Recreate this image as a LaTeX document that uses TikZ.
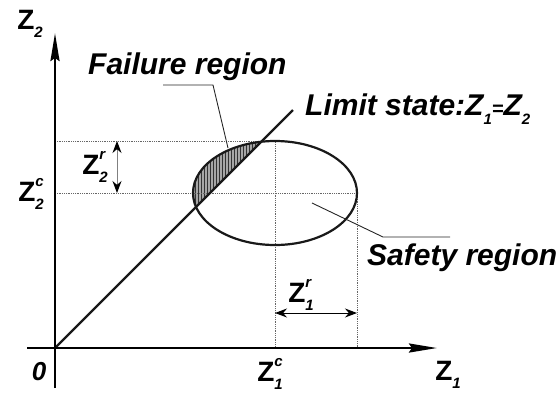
\documentclass[tikz,border=0pt]{standalone}
\usepackage{fontspec}
\setmainfont{Liberation Sans}
\usetikzlibrary{arrows.meta,patterns}

\newcommand\idxfont{\fontsize{15}{15}\selectfont\bfseries\itshape}
\newcommand\zsub[1]{Z\raisebox{-0.3em}{\idxfont #1}}
\newcommand\zsubsup[2]{Z\makebox[0pt][l]{\raisebox{0.55em}{\idxfont #2}}\raisebox{-0.3em}{\idxfont #1}}

\begin{document}
\begin{tikzpicture}[x=1pt,y=-1pt,
    every node/.style={inner sep=0pt},
    axislab/.style={font=\fontsize{28}{28}\selectfont\bfseries},
    regionlab/.style={font=\fontsize{30}{30}\selectfont\bfseries\itshape, anchor=base west},
    axis/.style={line width=2.6pt, -{Stealth[length=28pt,width=9pt,inset=3pt]}},
    guide/.style={densely dotted, line width=0.8pt, black!60},
    leader/.style={line width=0.9pt, black!85},
    dim/.style={line width=1pt, {Stealth[length=12pt,width=9pt,color=black]}-{Stealth[length=12pt,width=9pt,color=black]}}]
  \useasboundingbox (0,0) rectangle (560,392);

  % axes
  \coordinate (O) at (55,348);
  \coordinate (xs) at (27,348);
  \coordinate (xe) at (437,348);
  \coordinate (ys) at (55,388);
  \coordinate (ye) at (55,33);

  % safety ellipse: centre and extremes
  \coordinate (C) at (275,193);
  \coordinate (Ctop) at (275,141);
  \coordinate (Cright) at (357,193);
  \coordinate (Caxis) at (275,348);
  \coordinate (Raxis) at (357,348);
  \coordinate (Ltop) at (55,141);
  \coordinate (Lmid) at (55,193);
  \coordinate (lim) at (293,110);

  % hatched failure part
  \begin{scope}
    \clip (C) ellipse [x radius=82, y radius=52];
    \fill[black!35] (O) -- (403,0) -- (55,0) -- cycle;
    \fill[pattern=vertical lines, pattern color=black!80] (O) -- (403,0) -- (55,0) -- cycle;
  \end{scope}

  % dotted guides
  \draw[guide] (Ltop) -- (Ctop) -- (Caxis);
  \draw[guide] (Lmid) -- (Cright) -- (Raxis);

  \draw[line width=2.2pt, black!90] (C) ellipse [x radius=82, y radius=52];
  \draw[line width=2.2pt, black!90] (O) -- (lim);

  \draw[axis] (xs) -- (xe);
  \draw[axis] (ys) -- (ye);

  % radii
  \coordinate (r2a) at (117,141);
  \coordinate (r2b) at (117,193);
  \draw[dim, black!50] (r2a) -- (r2b);
  \coordinate (r1a) at (275,313);
  \coordinate (r1b) at (357,313);
  \draw[dim] (r1a) -- (r1b);

  % labels
  \node[axislab] (z2) at (30,24) {\zsub{2}};
  \node[axislab] (z2c) at (31,194) {\zsubsup{2}{c}};
  \node[axislab] (z2r) at (95,167) {\zsubsup{2}{r}};
  \node[axislab, font=\fontsize{26}{26}\selectfont\bfseries\itshape] (zero) at (39,372) {0};
  \node[axislab] (z1c) at (270,374) {\zsubsup{1}{c}};
  \node[axislab] (z1r) at (301,295) {\zsubsup{1}{r}};
  \node[axislab] (z1) at (448,375) {\zsub{1}};

  \node[regionlab] (fail) at (88,74) {Failure region};
  \node[regionlab] (limit) at (305,115) {Limit state:\zsub{1}{\fontsize{20}{20}\selectfont=}\zsub{2}};
  \node[regionlab] (safe) at (367,265) {Safety region};

  % leaders
  \coordinate (f1) at (163,85);
  \coordinate (f2) at (213,85);
  \coordinate (f3) at (228,148);
  \draw[leader] (f1) -- (f2) -- (f3);
  \coordinate (s1) at (312,203);
  \coordinate (s2) at (383,237);
  \coordinate (s3) at (450,237);
  \draw[leader] (s1) -- (s2) -- (s3);
\end{tikzpicture}
\end{document}
